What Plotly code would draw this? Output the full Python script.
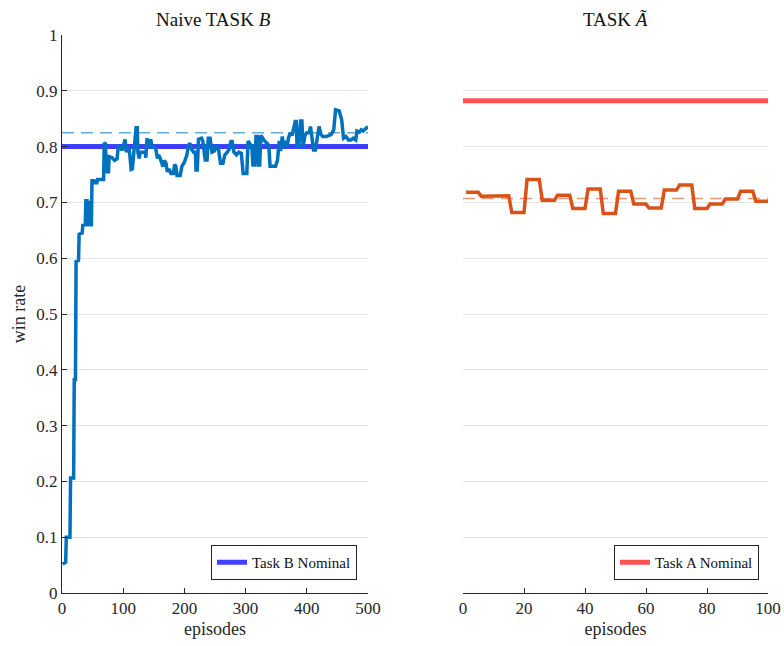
import plotly.graph_objects as go

# Naive training on task B: (episode, win rate) breakpoints of the running win rate
b_episodes = [1, 6, 7, 13, 14, 19, 20, 22, 23, 27, 28, 33, 34, 38, 39, 41, 42, 43, 44, 45,
              46, 48, 49, 52, 53, 57, 58, 68, 69, 71, 72, 74, 76, 77, 82, 84, 86, 90, 92, 96,
              98, 100, 103, 105, 108, 110, 113, 115, 118, 121, 123, 124, 126, 128, 136, 137, 139, 141, 143, 145,
              147, 153, 156, 158, 160, 163, 165, 167, 170, 172, 175, 178, 182, 184, 186, 188, 193, 196, 200, 204,
              207, 209, 212, 215, 218, 219, 221, 223, 228, 230, 232, 234, 237, 239, 242, 245, 249, 252, 255, 257,
              259, 263, 266, 270, 273, 276, 278, 281, 285, 289, 293, 296, 302, 304, 307, 310, 312, 315, 317, 319,
              321, 323, 325, 328, 331, 336, 338, 340, 349, 352, 355, 357, 360, 362, 365, 368, 370, 373, 376, 378,
              381, 383, 384, 387, 389, 390, 392, 394, 397, 400, 404, 406, 408, 411, 414, 417, 420, 423, 426, 432,
              436, 440, 444, 447, 453, 455, 457, 460, 464, 468, 472, 476, 480, 482, 486, 489, 492, 496, 500]
b_winrate = [0.052, 0.055, 0.100, 0.100, 0.206, 0.206, 0.382, 0.382, 0.594, 0.596, 0.643, 0.645, 0.659, 0.660, 0.703, 0.703, 0.660, 0.660, 0.700, 0.700,
             0.660, 0.660, 0.739, 0.739, 0.735, 0.735, 0.741, 0.741, 0.807, 0.805, 0.770, 0.755, 0.755, 0.782, 0.780, 0.778, 0.775, 0.778, 0.800, 0.800,
             0.793, 0.800, 0.813, 0.790, 0.800, 0.795, 0.759, 0.760, 0.800, 0.834, 0.834, 0.790, 0.779, 0.790, 0.790, 0.780, 0.815, 0.800, 0.800, 0.813,
             0.800, 0.797, 0.779, 0.785, 0.780, 0.768, 0.764, 0.775, 0.770, 0.755, 0.760, 0.752, 0.752, 0.768, 0.765, 0.748, 0.748, 0.765, 0.772, 0.785,
             0.803, 0.806, 0.795, 0.790, 0.790, 0.758, 0.758, 0.813, 0.815, 0.810, 0.790, 0.776, 0.776, 0.815, 0.815, 0.790, 0.792, 0.800, 0.800, 0.780,
             0.770, 0.770, 0.785, 0.790, 0.795, 0.809, 0.809, 0.790, 0.785, 0.790, 0.788, 0.752, 0.752, 0.810, 0.805, 0.800, 0.767, 0.767, 0.818, 0.818,
             0.767, 0.767, 0.820, 0.815, 0.810, 0.805, 0.800, 0.765, 0.765, 0.775, 0.810, 0.792, 0.818, 0.800, 0.810, 0.800, 0.815, 0.825, 0.820, 0.830,
             0.845, 0.845, 0.800, 0.800, 0.827, 0.846, 0.846, 0.800, 0.820, 0.825, 0.825, 0.836, 0.820, 0.794, 0.794, 0.820, 0.836, 0.822, 0.818, 0.818,
             0.820, 0.822, 0.830, 0.866, 0.864, 0.855, 0.848, 0.815, 0.818, 0.812, 0.812, 0.815, 0.812, 0.828, 0.826, 0.830, 0.828, 0.832, 0.836]
b_mean = 0.825
b_nominal = 0.80

# Evaluation on task A-tilde after training on B: win rate per episode
a_episodes = list(range(1, 101))
a_winrate = [0.718, 0.718, 0.718, 0.718, 0.718, 0.711, 0.711, 0.711, 0.712, 0.712,
             0.712, 0.712, 0.712, 0.712, 0.712, 0.682, 0.682, 0.682, 0.682, 0.682,
             0.741, 0.741, 0.741, 0.741, 0.741, 0.704, 0.704, 0.704, 0.704, 0.704,
             0.713, 0.713, 0.713, 0.713, 0.713, 0.689, 0.689, 0.689, 0.689, 0.689,
             0.724, 0.724, 0.724, 0.724, 0.724, 0.680, 0.680, 0.680, 0.680, 0.680,
             0.720, 0.720, 0.720, 0.720, 0.720, 0.697, 0.697, 0.697, 0.697, 0.697,
             0.690, 0.690, 0.690, 0.690, 0.690, 0.722, 0.722, 0.722, 0.722, 0.722,
             0.731, 0.731, 0.731, 0.731, 0.731, 0.689, 0.689, 0.689, 0.689, 0.689,
             0.697, 0.697, 0.697, 0.697, 0.697, 0.706, 0.706, 0.706, 0.706, 0.706,
             0.720, 0.720, 0.720, 0.720, 0.720, 0.702, 0.702, 0.702, 0.702, 0.702]
a_mean = 0.707
a_nominal = 0.882

y_ticks = [0, 0.1, 0.2, 0.3, 0.4, 0.5, 0.6, 0.7, 0.8, 0.9, 1]
y_ticklabels = ["0", "0.1", "0.2", "0.3", "0.4", "0.5", "0.6", "0.7", "0.8", "0.9", "1"]
b_xticks = [0, 100, 200, 300, 400, 500]
a_xticks = [0, 20, 40, 60, 80, 100]

FONT = "Liberation Serif, DejaVu Serif, serif"
AXC = "#262626"
BLUE = "#0072BD"
ORANGE = "#D95319"

fig = go.Figure()

# left panel
fig.add_trace(go.Scatter(x=[0, 500], y=[b_mean, b_mean], mode="lines",
                         line=dict(color="rgba(0,114,189,0.6)", width=1.5, dash="12px,7px"),
                         showlegend=False, hoverinfo="skip", xaxis="x", yaxis="y"))
fig.add_trace(go.Scatter(x=[0, 500], y=[b_nominal, b_nominal], mode="lines",
                         line=dict(color="rgba(0,0,255,0.75)", width=5),
                         name="Task B Nominal", legend="legend", xaxis="x", yaxis="y"))
fig.add_trace(go.Scatter(x=b_episodes, y=b_winrate, mode="lines",
                         line=dict(color=BLUE, width=3.5),
                         showlegend=False, xaxis="x", yaxis="y"))

# right panel
fig.add_trace(go.Scatter(x=[0, 100], y=[a_nominal, a_nominal], mode="lines",
                         line=dict(color="rgba(255,40,40,0.8)", width=5),
                         name="Task A Nominal", legend="legend2", xaxis="x2", yaxis="y2"))
fig.add_trace(go.Scatter(x=[0, 100], y=[a_mean, a_mean], mode="lines",
                         line=dict(color="rgba(217,83,25,0.6)", width=1.5, dash="12px,7px"),
                         showlegend=False, hoverinfo="skip", xaxis="x2", yaxis="y2"))
fig.add_trace(go.Scatter(x=a_episodes, y=a_winrate, mode="lines",
                         line=dict(color=ORANGE, width=3.5),
                         showlegend=False, xaxis="x2", yaxis="y2"))

W, H = 784, 646
ybot, ytop = 1 - 593 / H, 1 - 35 / H
TICKFONT = dict(family=FONT, size=17, color=AXC)
LABELFONT = dict(family=FONT, size=18, color=AXC)


def x_axis(domain, rng, ticks, anchor):
    return dict(domain=domain, range=rng, tickvals=ticks, anchor=anchor,
                showline=True, linecolor=AXC, linewidth=1, ticks="inside", ticklen=5,
                tickcolor=AXC, showgrid=False, zeroline=False, fixedrange=True,
                tickfont=TICKFONT, automargin=False,
                title=dict(text="episodes", font=LABELFONT, standoff=4))


legend_style = dict(y=1 - 580 / H, xanchor="right", yanchor="bottom",
                    bgcolor="white", bordercolor="#222", borderwidth=1,
                    font=dict(family=FONT, size=15, color="#111"),
                    itemwidth=30, tracegroupgap=0)

fig.update_layout(
    width=W, height=H,
    margin=dict(l=0, r=0, t=0, b=0, autoexpand=False),
    paper_bgcolor="white", plot_bgcolor="white",
    font=dict(family=FONT, color=AXC),
    xaxis=x_axis([62 / W, 368 / W], [0, 500], b_xticks, "y"),
    yaxis=dict(domain=[ybot, ytop], range=[0, 1], tickvals=y_ticks, ticktext=y_ticklabels,
               showline=True, linecolor=AXC, ticks="inside", ticklen=5, tickcolor=AXC,
               showgrid=True, gridcolor="#e3e3e3", gridwidth=1, zeroline=False,
               tickfont=TICKFONT, automargin=False, anchor="x",
               title=dict(text="win rate", font=LABELFONT, standoff=6)),
    xaxis2=x_axis([463 / W, 768 / W], [0, 100], a_xticks, "y2"),
    yaxis2=dict(domain=[ybot, ytop], range=[0, 1], tickvals=y_ticks, showticklabels=False,
                showline=False, ticks="", showgrid=True, gridcolor="#e3e3e3", gridwidth=1,
                zeroline=False, anchor="x2", automargin=False),
    legend=dict(x=357 / W, **legend_style),
    legend2=dict(x=759 / W, **legend_style),
    annotations=[
        dict(text="Naive TASK <i>B</i>", x=213 / W, y=1 - 19 / H, xref="paper", yref="paper",
             xanchor="center", yanchor="middle", showarrow=False,
             font=dict(family=FONT, size=19, color="#111")),
        dict(text="TASK <i>Ã</i>", x=615 / W, y=1 - 19 / H, xref="paper", yref="paper",
             xanchor="center", yanchor="middle", showarrow=False,
             font=dict(family=FONT, size=19, color="#111")),
    ],
    showlegend=True,
)

fig.write_html("out.html")
